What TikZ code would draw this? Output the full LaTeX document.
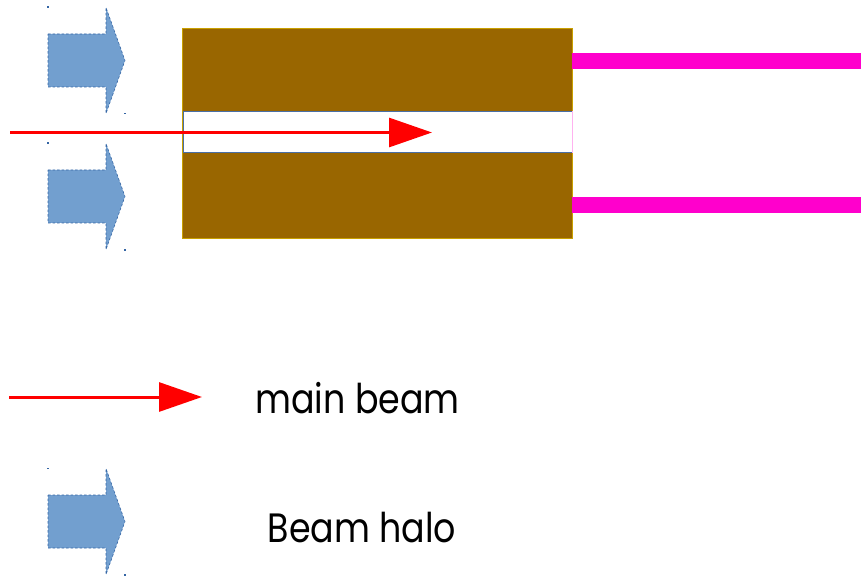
\documentclass[tikz,border=0pt]{standalone}
\usepackage{fontspec}
\setmainfont{Poppins}
\usetikzlibrary{arrows.meta}
\definecolor{copper}{HTML}{996600}
\definecolor{copperedge}{HTML}{C9A000}
\definecolor{halofill}{HTML}{729FCF}
\definecolor{haloedge}{HTML}{3465A4}
\definecolor{chanedge}{HTML}{4A6FA5}
\definecolor{magentabar}{HTML}{FF00CC}
\definecolor{beamred}{HTML}{FF0000}
\tikzset{
  halo/.pic={
    \fill[halofill] (0,-26.5) -- (58,-26.5) -- (58,-53) -- (77,0) -- (58,53) -- (58,26.5) -- (0,26.5) -- cycle;
    \draw[haloedge, dashed, dash pattern=on 2.5pt off 2pt, line width=0.6pt] (0,-26.5) -- (58,-26.5) -- (58,-53) -- (77,0) -- (58,53) -- (58,26.5) -- (0,26.5) -- cycle;
    \fill[haloedge] (-0.8,-54) rectangle (0.8,-52.5);
    \fill[haloedge] (76.2,52.5) rectangle (77.8,54);
  },
  beam/.style={beamred, line width=3pt, -{Triangle[length=43pt,width=29pt]}},
  label/.style={anchor=base, font=\fontsize{41}{48}\selectfont, inner sep=0pt}
}
\begin{document}
\begin{tikzpicture}[x=1pt,y=-1pt]
\useasboundingbox (0,0) rectangle (861,577);
% absorber block
\node[draw=copperedge, fill=copper, line width=0.8pt, minimum width=390pt, minimum height=210pt, inner sep=0pt, anchor=north west] (block) at (182,28) {};
\node[draw=chanedge, fill=white, line width=1pt, minimum width=389pt, minimum height=41pt, inner sep=0pt, anchor=north west] (channel) at (182.5,111) {};
\draw[magentabar!30, line width=0.6pt] (channel.north east) -- (channel.south east);
% magenta bars
\fill[magentabar] (572,53) rectangle (861,69);
\fill[magentabar] (572,197) rectangle (861,213);
% halo arrows
\pic at (48,60.5) {halo};
\pic at (48,196.5) {halo};
% main beam
\coordinate (bs) at (10,132.5);
\coordinate (be) at (432,132.5);
\draw[beam] (bs) -- (be);
% legend
\coordinate (ls) at (9,397);
\coordinate (le) at (202,397);
\draw[beam] (ls) -- (le);
\node[label] (t1) at (357.5,413) {\scalebox{0.85}[1]{main beam}};
\pic at (48,521.5) {halo};
\node[label] (t2) at (362,542) {\scalebox{0.85}[1]{Beam halo}};
\end{tikzpicture}
\end{document}
